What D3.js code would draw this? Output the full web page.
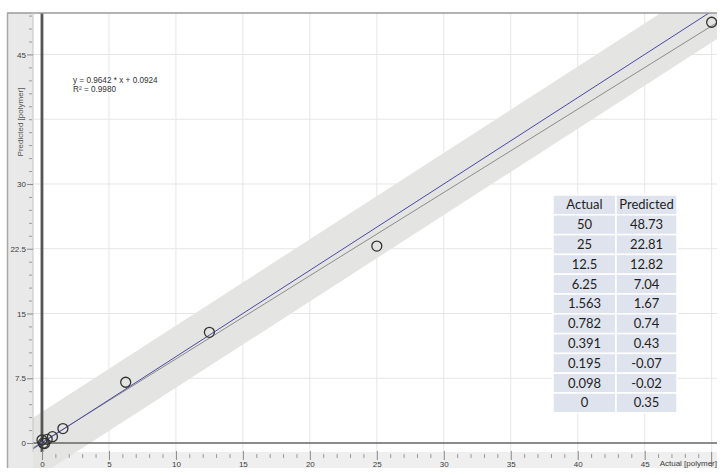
<!DOCTYPE html>
<html lang="en">
<head>
<meta charset="utf-8" />
<title>Actual vs Predicted [polymer]</title>
<script src="https://d3js.org/d3.v7.min.js"></script>
<style>
    body { margin: 0; background: #fff; }
    svg { display: block; font-family: Arial, "Liberation Sans", sans-serif; }
</style>
</head>
<body>
<script>
    var actual    = [50, 25, 12.5, 6.25, 1.563, 0.782, 0.391, 0.195, 0.098, 0];
    var predicted = [48.73, 22.81, 12.82, 7.04, 1.67, 0.74, 0.43, -0.07, -0.02, 0.35];
    var actualLabels    = ["50", "25", "12.5", "6.25", "1.563", "0.782", "0.391", "0.195", "0.098", "0"];
    var predictedLabels = ["48.73", "22.81", "12.82", "7.04", "1.67", "0.74", "0.43", "-0.07", "-0.02", "0.35"];
    var tableHeader = ["Actual", "Predicted"];

    var slope = 0.9642, intercept = 0.0924, r2 = 0.9980;
    var bandHalf = 3.6;   // half-width of the grey band around y = x

    var xTicks = [0, 5, 10, 15, 20, 25, 30, 35, 40, 45];
    var yTicks = [0, 7.5, 15, 22.5, 30, 45];
    var yTickLabels = ["0", "7.5", "15", "22.5", "30", "45"];
    var xGrid = [5, 10, 15, 20, 25, 30, 35, 40, 45, 50];
    var yGrid = [7.5, 15, 22.5, 30, 37.5, 45];

    var width = 723, height = 475;
    var plotL = 33, plotR = 717, plotT = 13, plotB = 452, panelB = 468, panelL = 7;

    var x = d3.scaleLinear().domain([-0.67, 50.4]).range([plotL, plotR]);
    var y = d3.scaleLinear().domain([-1.04, 49.8]).range([plotB, plotT]);

    var svg = d3.select("body").append("svg")
        .attr("width", width).attr("height", height);

    var defs = svg.append("defs");
    defs.append("clipPath").attr("id", "plotclip").append("rect")
        .attr("x", plotL).attr("y", plotT).attr("width", plotR - plotL).attr("height", plotB - plotT);
    defs.append("clipPath").attr("id", "bandclip").append("rect")
        .attr("x", plotL).attr("y", plotT).attr("width", plotR - plotL).attr("height", panelB - plotT);

    // axis panels
    svg.append("rect").attr("x", panelL).attr("y", plotT).attr("width", plotL - panelL)
        .attr("height", panelB - plotT).attr("fill", "#e9e9e9");
    svg.append("rect").attr("x", plotL).attr("y", plotB).attr("width", plotR - plotL)
        .attr("height", panelB - plotB).attr("fill", "#efefef");

    // grid
    var grid = svg.append("g").attr("clip-path", "url(#plotclip)");
    grid.selectAll(".vg").data(xGrid).enter().append("line")
        .attr("x1", d => x(d)).attr("x2", d => x(d)).attr("y1", plotT).attr("y2", plotB)
        .attr("stroke", "#e6e6e6").attr("stroke-width", 1);
    grid.selectAll(".hg").data(yGrid).enter().append("line")
        .attr("x1", plotL).attr("x2", plotR).attr("y1", d => y(d)).attr("y2", d => y(d))
        .attr("stroke", "#e6e6e6").attr("stroke-width", 1);

    // grey band
    var bx = [-5, 60];
    var bandPts = [[bx[0], bx[0] + bandHalf], [bx[1], bx[1] + bandHalf],
                   [bx[1], bx[1] - bandHalf], [bx[0], bx[0] - bandHalf]];
    svg.append("path").attr("clip-path", "url(#bandclip)")
        .attr("d", "M" + bandPts.map(p => x(p[0]) + "," + y(p[1])).join("L") + "Z")
        .attr("fill", "#e4e4e2");

    // axes lines at zero
    svg.append("line").attr("x1", plotL).attr("x2", plotR).attr("y1", y(0)).attr("y2", y(0))
        .attr("stroke", "#666").attr("stroke-width", 1.5);
    svg.append("line").attr("x1", x(0)).attr("x2", x(0)).attr("y1", plotT).attr("y2", plotB)
        .attr("stroke", "#555").attr("stroke-width", 2.8);

    // lines: identity and regression
    var lines = svg.append("g").attr("clip-path", "url(#plotclip)");
    var line = d3.line().x(d => x(d[0])).y(d => y(d[1]));
    lines.append("path").datum([[-2, -2 * slope + intercept], [55, 55 * slope + intercept]])
        .attr("d", line).attr("fill", "none").attr("stroke", "#8c8c8c").attr("stroke-width", 1);
    lines.append("path").datum([[-2, -2], [55, 55]])
        .attr("d", line).attr("fill", "none").attr("stroke", "#4a4aa6").attr("stroke-width", 1);

    // points
    lines.selectAll("circle").data(actual).enter().append("circle")
        .attr("cx", d => x(d)).attr("cy", (d, i) => y(predicted[i])).attr("r", 5)
        .attr("fill", "none").attr("stroke", "#333").attr("stroke-width", 1.3);

    // borders
    svg.append("line").attr("x1", panelL).attr("x2", plotR).attr("y1", plotT).attr("y2", plotT)
        .attr("stroke", "#9a9a9a").attr("stroke-width", 1.5);
    svg.append("line").attr("x1", panelL + 0.5).attr("x2", panelL + 0.5).attr("y1", plotT).attr("y2", panelB)
        .attr("stroke", "#a8a8a8").attr("stroke-width", 1.5);
    svg.append("line").attr("x1", plotL).attr("x2", plotL).attr("y1", plotT).attr("y2", plotB)
        .attr("stroke", "#c4c4c4").attr("stroke-width", 1);

    // left axis ticks
    var yAxis = d3.axisLeft(y).tickValues(yTicks).tickSize(6).tickPadding(1)
        .tickFormat((d, i) => yTickLabels[i]);
    var ya = svg.append("g").attr("transform", "translate(" + plotL + ",0)").call(yAxis);
    ya.select(".domain").remove();
    ya.selectAll("line").attr("stroke", "#888");
    ya.selectAll("text").attr("font-size", 8).attr("fill", "#3c3c3c").attr("font-family", "Arial, 'Liberation Sans', sans-serif");
    var yMinor = d3.range(0, 49.6, 1.5).filter(v => yTicks.indexOf(v) < 0);
    var ym = svg.append("g").attr("transform", "translate(" + plotL + ",0)")
        .call(d3.axisLeft(y).tickValues(yMinor).tickSize(3).tickFormat(""));
    ym.select(".domain").remove();
    ym.selectAll("line").attr("stroke", "#999").attr("transform", "translate(-1,0)");

    // bottom axis ticks
    var xAxis = d3.axisBottom(x).tickValues(xTicks).tickSize(9).tickPadding(1).tickFormat(d3.format("d"));
    var xa = svg.append("g").attr("transform", "translate(0," + (plotB - 1) + ")").call(xAxis);
    xa.select(".domain").remove();
    xa.selectAll("line").attr("stroke", "#888");
    xa.selectAll("text").attr("font-size", 8).attr("fill", "#3c3c3c").attr("font-family", "Arial, 'Liberation Sans', sans-serif");
    var xMinor = d3.range(1, 51, 1).filter(v => v % 5 !== 0);
    var xm = svg.append("g").attr("transform", "translate(0," + (plotB + 2) + ")")
        .call(d3.axisBottom(x).tickValues(xMinor).tickSize(4).tickFormat(""));
    xm.select(".domain").remove();
    xm.selectAll("line").attr("stroke", "#999");
    svg.append("line").attr("x1", x(50)).attr("x2", x(50)).attr("y1", plotB).attr("y2", panelB - 1)
        .attr("stroke", "#888");

    // axis titles
    svg.append("text").attr("x", 717).attr("y", 466).attr("text-anchor", "end")
        .attr("font-size", 8).attr("fill", "#3c3c3c").text("Actual [polymer]");
    svg.append("text").attr("transform", "translate(23,122) rotate(-90)").attr("text-anchor", "middle")
        .attr("font-size", 8).attr("fill", "#555").text("Predicted [polymer]");

    // equation
    svg.append("text").attr("x", 73).attr("y", 83).attr("font-size", 8.2).attr("fill", "#333")
        .text("y = " + slope.toFixed(4) + " * x + " + intercept.toFixed(4));
    svg.append("text").attr("x", 73).attr("y", 92).attr("font-size", 8.2).attr("fill", "#333")
        .text("R\u00B2 = " + r2.toFixed(4));

    // table
    var tabL = 553, tabT = 195, colW = [63, 61], rowH = 19.8;
    var rows = [tableHeader].concat(actualLabels.map((a, i) => [a, predictedLabels[i]]));
    var tab = svg.append("g");
    rows.forEach(function (r, ri) {
        var cx = tabL;
        r.forEach(function (c, ci) {
            tab.append("rect").attr("x", cx).attr("y", tabT + ri * rowH)
                .attr("width", colW[ci]).attr("height", rowH)
                .attr("fill", "#dfe3ed").attr("stroke", "#fff").attr("stroke-width", 1.5);
            tab.append("text").attr("x", cx + colW[ci] / 2).attr("y", tabT + ri * rowH + rowH / 2 + 4.5)
                .attr("text-anchor", "middle").attr("font-family", "Lato, 'Open Sans', sans-serif")
                .attr("font-size", 13).attr("fill", "#1e1e1e").text(c);
            cx += colW[ci];
        });
    });
</script>
</body>
</html>
